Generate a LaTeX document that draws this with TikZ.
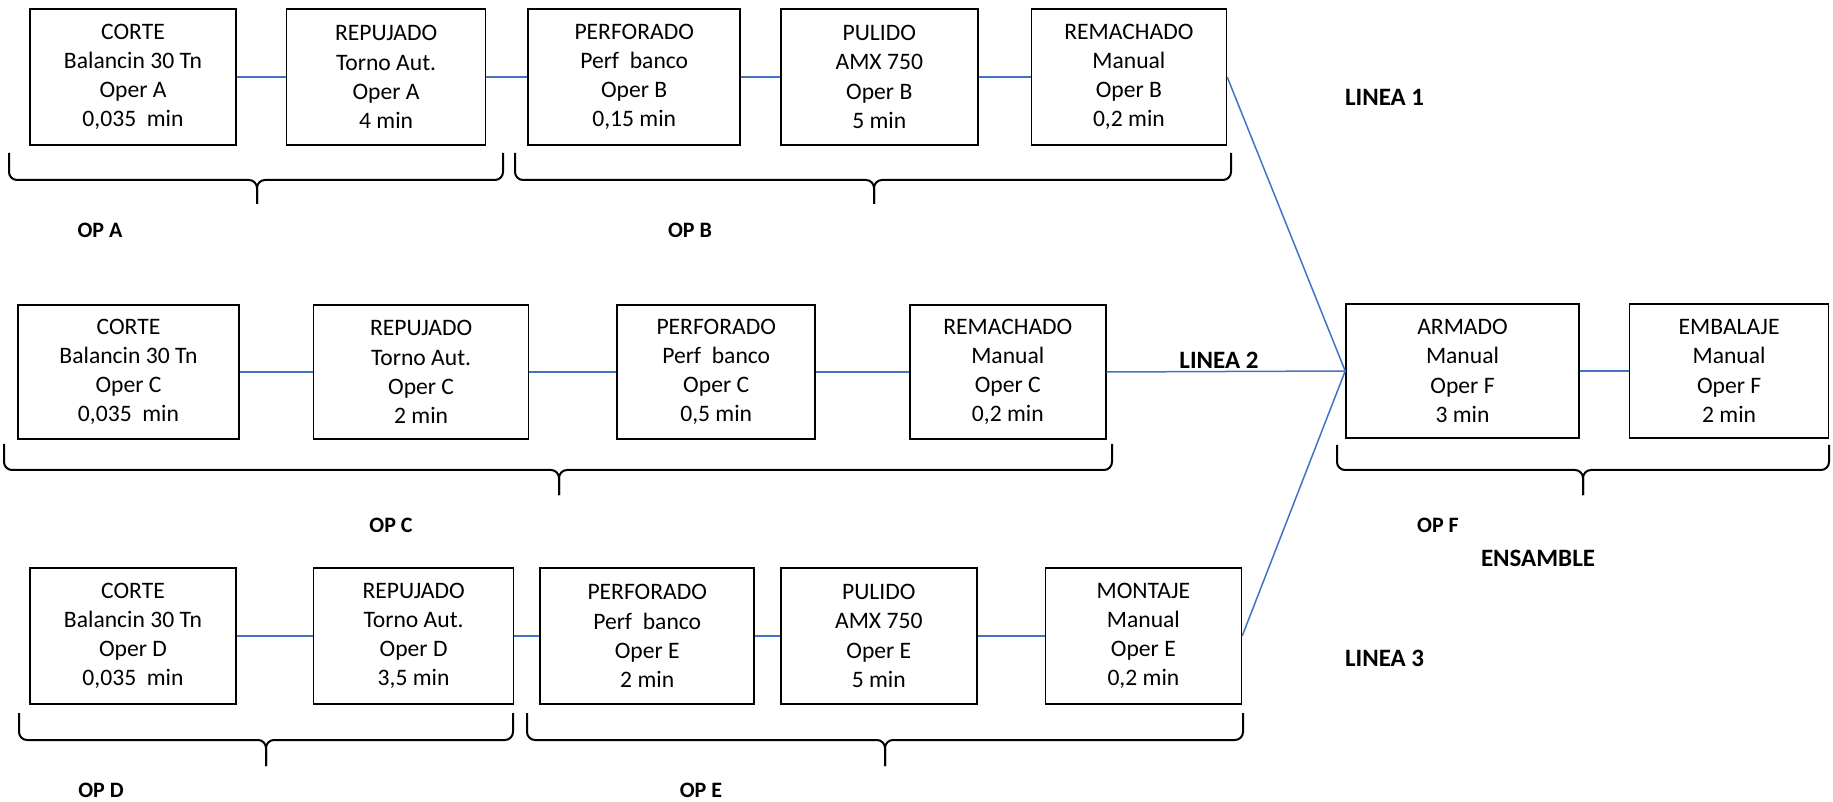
\documentclass[tikz,border=0pt]{standalone}
\usepackage{fontspec}
\setmainfont{Carlito}
\usetikzlibrary{positioning}
\definecolor{lineblue}{RGB}{68,114,196}
% llave: x1, x2, x punta, y arriba, y abajo, y punta
\newcommand{\llave}[6]{%
  \draw[bracket] (#1,#4) -- (#1,#5) -- (#3,#5) -- (#3,#6);
  \draw[bracket] (#2,#4) -- (#2,#5) -- (#3,#5) -- (#3,#6);}

\begin{document}
\begin{tikzpicture}[x=0.5pt,y=-0.5pt]
  \tikzstyle{proc}=[draw,line width=0.8pt,minimum height=68pt,align=center,inner sep=2pt,font=\fontsize{11.8}{14.6}\selectfont]
  \tikzstyle{link}=[draw=lineblue,line width=0.75pt]
  \tikzstyle{bracket}=[line width=1pt,rounded corners=4pt]
  \tikzstyle{oplabel}=[font=\bfseries\fontsize{11}{13}\selectfont]
  \tikzstyle{linelabel}=[font=\bfseries\fontsize{12.5}{15}\selectfont]
  \useasboundingbox (0,0) rectangle (1833,802);

  % linea 1
  \node[proc,minimum width=103pt] (l1a) at (133,77) {CORTE\\Balancin 30 Tn\\Oper A\\0,035~ min};
  \node[proc,minimum width=99.5pt,right=24.5pt of l1a] (l1b) {REPUJADO\\Torno Aut.\\Oper A\\4 min};
  \node[proc,minimum width=106pt,right=20.5pt of l1b] (l1c) {PERFORADO\\Perf~ banco\\Oper B\\0,15 min};
  \node[proc,minimum width=98.5pt,right=19.5pt of l1c] (l1d) {PULIDO\\AMX 750\\Oper B\\5 min};
  \node[proc,minimum width=97.5pt,right=26pt of l1d] (l1e) {REMACHADO\\Manual\\Oper B\\0,2 min};
  \draw[link] (l1a) -- (l1b);
  \draw[link] (l1b) -- (l1c);
  \draw[link] (l1c) -- (l1d);
  \draw[link] (l1d) -- (l1e);
  \llave{9}{503}{257}{153}{180}{204}
  \llave{515}{1231}{874}{153}{180}{204}
  \node[oplabel] (opa) at (100,230) {OP A};
  \node[oplabel] (opb) at (690,230) {OP B};
  \node[linelabel,anchor=west] (lin1) at (1338,97) {LINEA 1};

  % linea 2
  \node[proc,minimum width=110.5pt,minimum height=67pt] (l2a) at (128.5,372) {CORTE\\Balancin 30 Tn\\Oper C\\0,035~ min};
  \node[proc,minimum width=107.5pt,minimum height=67pt,right=36.5pt of l2a] (l2b) {REPUJADO\\Torno Aut.\\Oper C\\2 min};
  \node[proc,minimum width=99pt,minimum height=67pt,right=43.5pt of l2b] (l2c) {PERFORADO\\Perf~ banco\\Oper C\\0,5 min};
  \node[proc,minimum width=98pt,minimum height=67pt,right=46.5pt of l2c] (l2d) {REMACHADO\\Manual\\Oper C\\0,2 min};
  \draw[link] (l2a) -- (l2b);
  \draw[link] (l2b) -- (l2c);
  \draw[link] (l2c) -- (l2d);
  \llave{4}{1112}{559}{444}{470}{495}
  \node[oplabel] (opc) at (391,525) {OP C};
  \node[linelabel] (lin2) at (1219,360) {LINEA 2};

  % ensamble
  \node[proc,minimum width=116.5pt,minimum height=67pt] (arm) at (1462.5,371) {ARMADO\\Manual\\Oper F\\3 min};
  \node[proc,minimum width=99.5pt,minimum height=67pt,right=24.5pt of arm] (emb) {EMBALAJE\\Manual\\Oper F\\2 min};
  \draw[link] (arm) -- (emb);
  \llave{1337}{1829}{1583}{445}{470}{495}
  \node[oplabel] (opf) at (1438,525) {OP F};
  \node[linelabel] (ens) at (1538,558) {ENSAMBLE};

  % linea 3
  \node[proc,minimum width=103pt,minimum height=68pt] (l3a) at (133,636) {CORTE\\Balancin 30 Tn\\Oper D\\0,035~ min};
  \node[proc,minimum width=100pt,minimum height=68pt,right=38pt of l3a] (l3b) {REPUJADO\\Torno Aut.\\Oper D\\3,5 min};
  \node[proc,minimum width=107pt,minimum height=68pt,right=12.5pt of l3b] (l3c) {PERFORADO\\Perf~ banco\\Oper E\\2 min};
  \node[proc,minimum width=98pt,minimum height=68pt,right=12.5pt of l3c] (l3d) {PULIDO\\AMX 750\\Oper E\\5 min};
  \node[proc,minimum width=98pt,minimum height=68pt,right=33.5pt of l3d] (l3e) {MONTAJE\\Manual\\Oper E\\0,2 min};
  \draw[link] (l3a) -- (l3b);
  \draw[link] (l3b) -- (l3c);
  \draw[link] (l3c) -- (l3d);
  \draw[link] (l3d) -- (l3e);
  \llave{19}{513}{266}{713}{740}{766}
  \llave{527}{1243}{885}{713}{740}{766}
  \node[oplabel] (opd) at (101,790) {OP D};
  \node[oplabel] (ope) at (701,790) {OP E};
  \node[linelabel,anchor=west] (lin3) at (1338,658) {LINEA 3};

  % union de lineas
  \draw[link] (l1e.east) -- (arm.west);
  \draw[link] (l2d.east) -- (arm.west);
  \draw[link] (l3e.east) -- (arm.west);
\end{tikzpicture}
\end{document}
